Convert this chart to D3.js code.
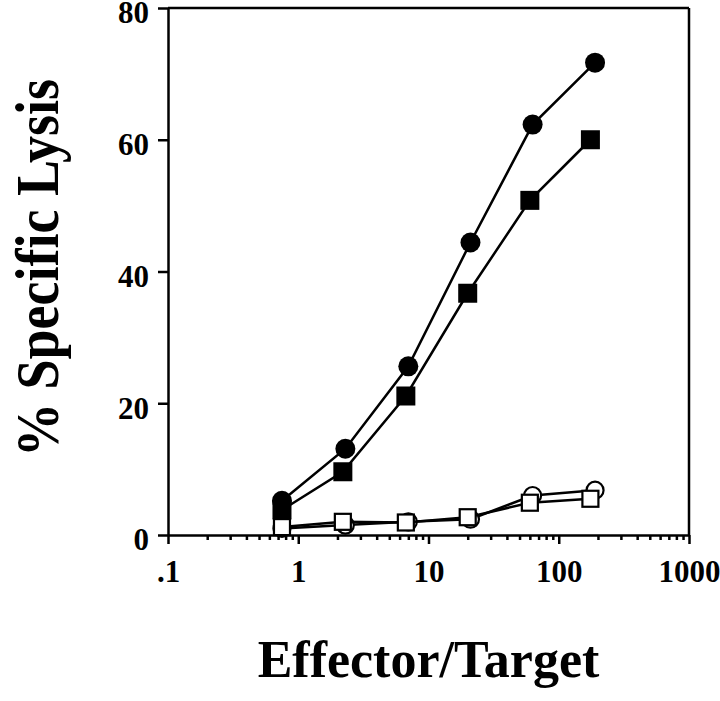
<!DOCTYPE html>
<html>
<head>
<meta charset="utf-8">
<script src="https://cdn.jsdelivr.net/npm/d3@7"></script>
<style>
  body { margin: 0; background: #fff; }
  svg text { font-family: "Liberation Serif", "Times New Roman", serif; font-weight: bold; fill: #000; }
</style>
</head>
<body>
<div id="chart"></div>
<script>
// effector/target ratios
var etCircle = [0.75, 2.3, 7, 21, 63, 190];
var etSquare = [0.75, 2.2, 6.7, 20, 60, 175];

// % specific lysis
var filledCircle = [5.2, 13.1, 25.6, 44.4, 62.3, 71.7];
var filledSquare = [3.8, 9.6, 21.1, 36.7, 50.8, 60.0];
var openCircle   = [1.0, 1.5, 2.0, 2.4, 6.0, 6.8];
var openSquare   = [1.2, 2.0, 1.9, 2.7, 4.9, 5.5];

var xTicks = [0.1, 1, 10, 100, 1000];
var xTickLabels = [".1", "1", "10", "100", "1000"];
var yTicks = [0, 20, 40, 60, 80];

var margin = { top: 8, right: 31, bottom: 166, left: 168 },
    width = 720 - margin.left - margin.right,
    height = 701 - margin.top - margin.bottom;

var svg = d3.select("#chart")
  .append("svg")
    .attr("width", 720)
    .attr("height", 701)
  .append("g")
    .attr("transform", "translate(" + margin.left + "," + margin.top + ")");

var x = d3.scaleLog()
  .domain([0.1, 1000])
  .range([0, width]);

var y = d3.scaleLinear()
  .domain([0, 80])
  .range([height, 0]);

// minor ticks on the log axis
var minorTicks = [];
for (var d = 0.1; d < 1000; d *= 10) {
  for (var k = 2; k <= 9; k++) minorTicks.push(d * k);
}

svg.append("g")
  .attr("transform", "translate(0," + height + ")")
  .call(d3.axisBottom(x).tickValues(minorTicks).tickSize(5).tickFormat(""))
  .call(function(g) { g.select(".domain").remove(); })
  .selectAll("line").attr("stroke-width", 2.5);

svg.append("g")
  .attr("transform", "translate(0," + height + ")")
  .call(d3.axisBottom(x).tickValues(xTicks).tickSize(9).tickSizeOuter(0)
    .tickFormat(function(d, i) { return xTickLabels[i]; }))
  .call(function(g) {
    g.select(".domain").attr("stroke-width", 2.5);
    g.selectAll("line").attr("stroke-width", 2.5);
    g.selectAll("text").attr("font-size", 31).attr("y", 25).attr("dy", "0.71em");
  });

svg.append("g")
  .call(d3.axisLeft(y).tickValues(yTicks).tickSize(10).tickSizeOuter(0))
  .call(function(g) {
    g.select(".domain").attr("stroke-width", 2.5);
    g.selectAll("line").attr("stroke-width", 2.5);
    g.selectAll("text").attr("font-size", 31).attr("x", -19).attr("dy", "0.48em");
  });

// frame: top and right
svg.append("line")
  .attr("x1", 0).attr("x2", width).attr("y1", 0).attr("y2", 0)
  .attr("stroke", "#000").attr("stroke-width", 2.5);
svg.append("line")
  .attr("x1", width).attr("x2", width).attr("y1", 0).attr("y2", height)
  .attr("stroke", "#000").attr("stroke-width", 2.5);

var line = d3.line()
  .x(function(d) { return x(d[0]); })
  .y(function(d) { return y(d[1]); });

function drawSeries(xs, ys, shape, filled) {
  var pts = d3.zip(xs, ys);
  svg.append("path")
    .datum(pts)
    .attr("d", line)
    .attr("fill", "none")
    .attr("stroke", "#000")
    .attr("stroke-width", 2.5);
  var g = svg.append("g");
  if (shape === "circle") {
    g.selectAll("circle").data(pts).enter().append("circle")
      .attr("cx", function(d) { return x(d[0]); })
      .attr("cy", function(d) { return y(d[1]); })
      .attr("r", filled ? 10 : 8.5)
      .attr("fill", filled ? "#000" : "#fff")
      .attr("stroke", "#000")
      .attr("stroke-width", filled ? 0 : 2.2);
  } else {
    var s = filled ? 19 : 16;
    g.selectAll("rect").data(pts).enter().append("rect")
      .attr("x", function(d) { return x(d[0]) - s / 2; })
      .attr("y", function(d) { return y(d[1]) - s / 2; })
      .attr("width", s)
      .attr("height", s)
      .attr("fill", filled ? "#000" : "#fff")
      .attr("stroke", "#000")
      .attr("stroke-width", filled ? 0 : 2.2);
  }
}

drawSeries(etCircle, filledCircle, "circle", true);
drawSeries(etSquare, filledSquare, "square", true);
drawSeries(etCircle, openCircle, "circle", false);
drawSeries(etSquare, openSquare, "square", false);

// axis titles
svg.append("text")
  .attr("x", width / 2)
  .attr("y", 677 - margin.top)
  .attr("text-anchor", "middle")
  .attr("font-size", 52)
  .text("Effector/Target");

svg.append("text")
  .attr("transform", "translate(" + (58 - margin.left) + "," + (268 - margin.top) + ")scale(1.12,1)rotate(-90)")
  .attr("text-anchor", "middle")
  .attr("font-size", 54)
  .text("% Specific Lysis");
</script>
</body>
</html>
